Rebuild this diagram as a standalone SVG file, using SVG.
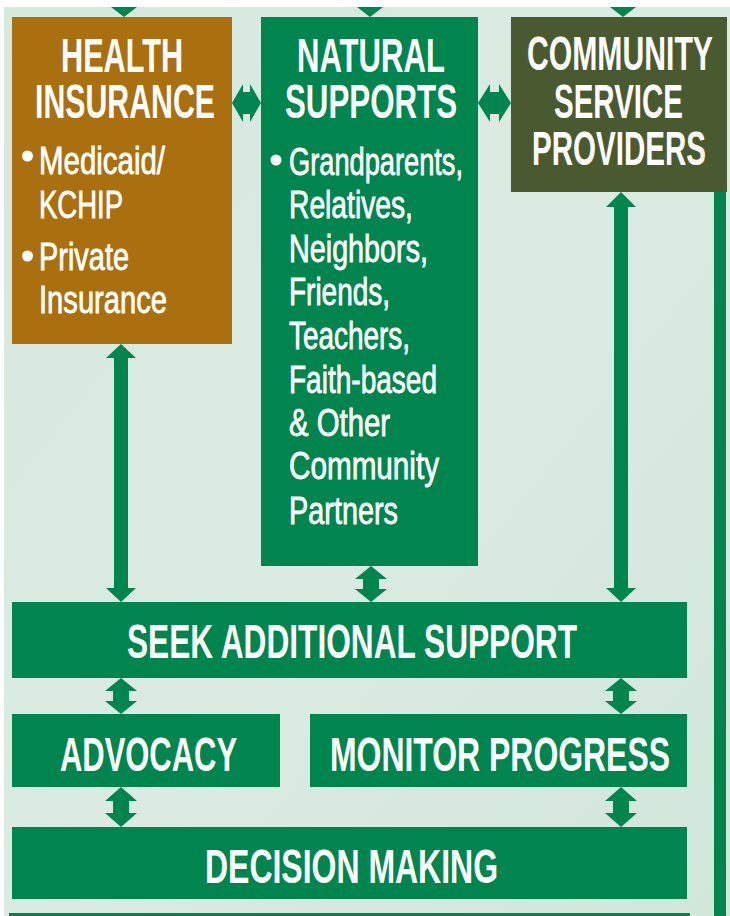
<svg xmlns="http://www.w3.org/2000/svg" width="730" height="916" viewBox="0 0 730 916">
  <defs>
    <linearGradient id="bg" x1="0" y1="0" x2="1" y2="1">
      <stop offset="0" stop-color="#d6e9de"/>
      <stop offset="0.5" stop-color="#dbebe2"/>
      <stop offset="1" stop-color="#d2e6da"/>
    </linearGradient>
  </defs>
  <style>
    .title { font-family: "Liberation Sans", Arial, sans-serif; font-weight: bold; font-size: 49px; fill: #ffffff; }
    .body { font-family: "Liberation Sans", Arial, sans-serif; font-weight: normal; font-size: 39px; fill: #ffffff; stroke: #ffffff; stroke-width: 0.8px; }
    .green { fill: #00854f; }
    .amber { fill: #aa700f; }
    .olive { fill: #4a5a30; }
    .conn { fill: #00854f; }
    .bullet { fill: #ffffff; }
  </style>
  <rect x="0" y="0" width="730" height="916" fill="#ffffff"/>
  <rect x="4" y="7" width="726" height="909" fill="url(#bg)"/>

  <g id="connectors">
    <!-- arrows entering from the top -->
    <polygon class="conn" points="111,7 137,7 124,17"/>
    <polygon class="conn" points="357,7 383,7 370,17"/>
    <polygon class="conn" points="610,7 636,7 623,17"/>
    <!-- horizontal double arrows between top boxes -->
    <polygon class="conn" points="232,103 243,84 243,92 250,92 250,84 261,103 250,122 250,114 243,114 243,122"/>
    <polygon class="conn" points="478,103 490,84 490,92 499,92 499,84 511,103 499,122 499,114 490,114 490,122"/>
    <!-- Health insurance <-> Seek additional support -->
    <polygon class="conn" points="121,344 136,358 128,358 128,588 136,588 121,602 106,588 114,588 114,358 106,358"/>
    <!-- Community service providers <-> Seek additional support -->
    <polygon class="conn" points="621,192 636,207 628,207 628,588 636,588 621,602 606,588 614,588 614,207 606,207"/>
    <!-- Natural supports <-> Seek -->
    <polygon class="conn" points="371,566 387,579 379,579 379,589 387,589 371,602 355,589 363,589 363,579 355,579"/>
    <!-- Seek <-> Advocacy -->
    <polygon class="conn" points="121,678 137,691 129,691 129,701 137,701 121,714 105,701 113,701 113,691 105,691"/>
    <!-- Seek <-> Monitor -->
    <polygon class="conn" points="621,678 637,691 629,691 629,701 637,701 621,714 605,701 613,701 613,691 605,691"/>
    <!-- Advocacy <-> Decision -->
    <polygon class="conn" points="121,787 137,801 129,801 129,813 137,813 121,827 105,813 113,813 113,801 105,801"/>
    <!-- Monitor <-> Decision -->
    <polygon class="conn" points="621,787 637,801 629,801 629,813 637,813 621,827 605,813 613,813 613,801 605,801"/>
    <!-- right vertical line from community providers -->
    <rect class="conn" x="714" y="192" width="12" height="724"/>
    <!-- bottom line -->
    <rect class="conn" x="9" y="913" width="681" height="3"/>
  </g>

  <g id="node-health">
    <rect class="amber" x="12" y="17" width="220" height="327"/>
    <text class="title" transform="translate(61,72) scale(0.63,1)" textLength="193.7" lengthAdjust="spacingAndGlyphs">HEALTH</text>
    <text class="title" transform="translate(35,118) scale(0.63,1)" textLength="285.7" lengthAdjust="spacingAndGlyphs">INSURANCE</text>
    <circle class="bullet" cx="27.5" cy="156" r="5.5"/>
    <text class="body" transform="translate(39,174) scale(0.7,1)" textLength="180" lengthAdjust="spacingAndGlyphs">Medicaid/</text>
    <text class="body" transform="translate(39,218) scale(0.7,1)" textLength="120" lengthAdjust="spacingAndGlyphs">KCHIP</text>
    <circle class="bullet" cx="27.5" cy="256" r="5.5"/>
    <text class="body" transform="translate(39,270) scale(0.7,1)" textLength="128.6" lengthAdjust="spacingAndGlyphs">Private</text>
    <text class="body" transform="translate(39,313) scale(0.7,1)" textLength="182.9" lengthAdjust="spacingAndGlyphs">Insurance</text>
  </g>

  <g id="node-natural">
    <rect class="green" x="261" y="17" width="217" height="549"/>
    <text class="title" transform="translate(297,72) scale(0.63,1)" textLength="234.9" lengthAdjust="spacingAndGlyphs">NATURAL</text>
    <text class="title" transform="translate(285,118) scale(0.63,1)" textLength="273" lengthAdjust="spacingAndGlyphs">SUPPORTS</text>
    <circle class="bullet" cx="276" cy="160" r="5.5"/>
    <text class="body" transform="translate(289,175) scale(0.7,1)" textLength="248.6" lengthAdjust="spacingAndGlyphs">Grandparents,</text>
    <text class="body" transform="translate(289,218) scale(0.7,1)" textLength="177.1" lengthAdjust="spacingAndGlyphs">Relatives,</text>
    <text class="body" transform="translate(289,262) scale(0.7,1)" textLength="198.6" lengthAdjust="spacingAndGlyphs">Neighbors,</text>
    <text class="body" transform="translate(289,305) scale(0.7,1)" textLength="144.3" lengthAdjust="spacingAndGlyphs">Friends,</text>
    <text class="body" transform="translate(289,349) scale(0.7,1)" textLength="172.9" lengthAdjust="spacingAndGlyphs">Teachers,</text>
    <text class="body" transform="translate(289,393) scale(0.7,1)" textLength="211.4" lengthAdjust="spacingAndGlyphs">Faith-based</text>
    <text class="body" transform="translate(289,436) scale(0.7,1)" textLength="144.3" lengthAdjust="spacingAndGlyphs">&amp; Other</text>
    <text class="body" transform="translate(289,479) scale(0.7,1)" textLength="214.3" lengthAdjust="spacingAndGlyphs">Community</text>
    <text class="body" transform="translate(289,524) scale(0.7,1)" textLength="155.7" lengthAdjust="spacingAndGlyphs">Partners</text>
  </g>

  <g id="node-community">
    <rect class="olive" x="511" y="17" width="216" height="175"/>
    <text class="title" font-size="47" transform="translate(527,70) scale(0.63,1)" textLength="295.2" lengthAdjust="spacingAndGlyphs">COMMUNITY</text>
    <text class="title" font-size="47" transform="translate(554,118) scale(0.63,1)" textLength="204.8" lengthAdjust="spacingAndGlyphs">SERVICE</text>
    <text class="title" font-size="47" transform="translate(532,165) scale(0.63,1)" textLength="276.2" lengthAdjust="spacingAndGlyphs">PROVIDERS</text>
  </g>

  <g id="node-seek">
    <rect class="green" x="12" y="602" width="675" height="76"/>
    <text class="title" transform="translate(127,658) scale(0.63,1)" textLength="714.3" lengthAdjust="spacingAndGlyphs">SEEK ADDITIONAL SUPPORT</text>
  </g>

  <g id="node-advocacy">
    <rect class="green" x="12" y="714" width="268" height="73"/>
    <text class="title" font-size="50" transform="translate(60,771) scale(0.63,1)" textLength="281" lengthAdjust="spacingAndGlyphs">ADVOCACY</text>
  </g>

  <g id="node-monitor">
    <rect class="green" x="310" y="714" width="377" height="73"/>
    <text class="title" font-size="50" transform="translate(330,771) scale(0.63,1)" textLength="539.7" lengthAdjust="spacingAndGlyphs">MONITOR PROGRESS</text>
  </g>

  <g id="node-decision">
    <rect class="green" x="12" y="827" width="675" height="72"/>
    <text class="title" font-size="50" transform="translate(205,883) scale(0.63,1)" textLength="465.1" lengthAdjust="spacingAndGlyphs">DECISION MAKING</text>
  </g>
</svg>
